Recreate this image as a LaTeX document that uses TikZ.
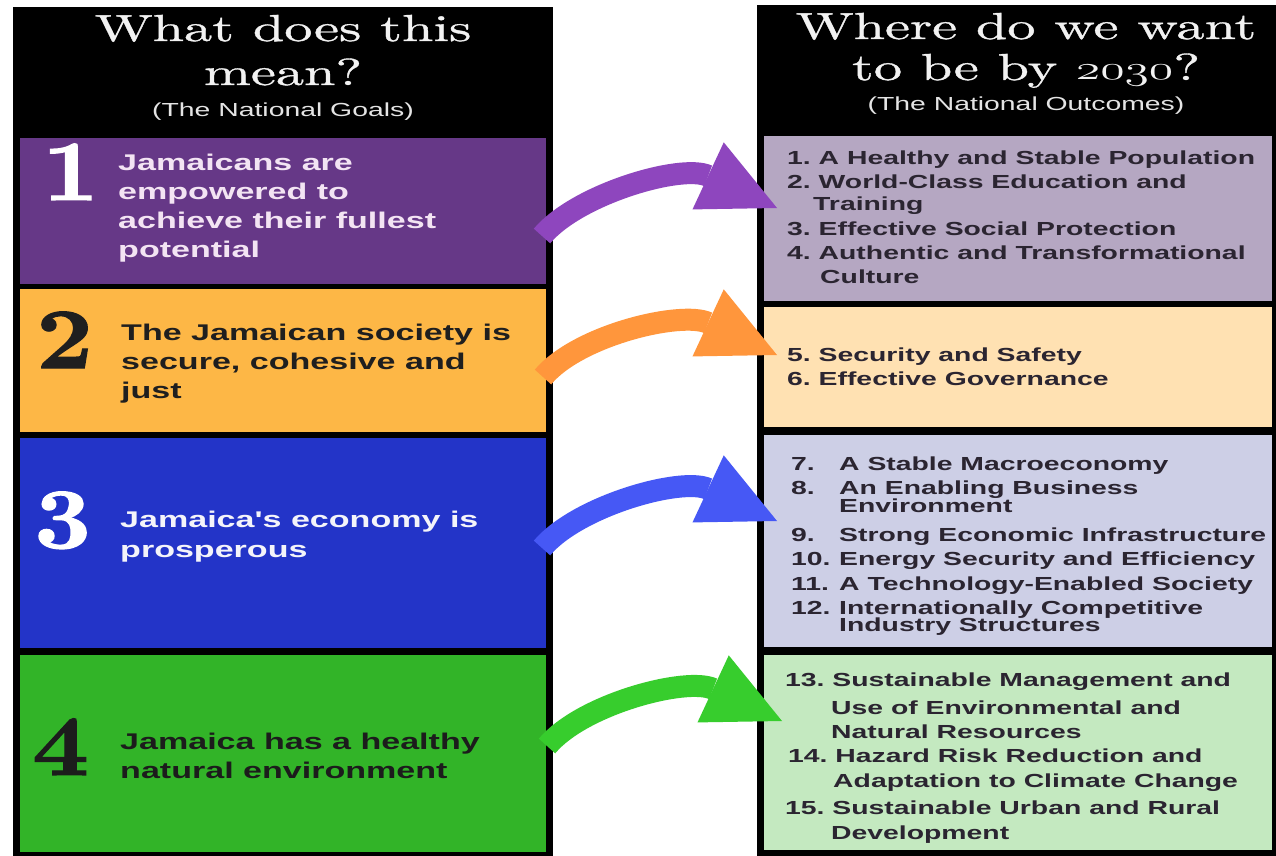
\documentclass[tikz,border=0pt]{standalone}
\usepackage{fontspec}
\newfontfamily\headfont[Extension=.otf,FakeStretch=1.5,FakeBold=1]{lmroman10-regular}
\newfontfamily\numfont[Extension=.otf,FakeStretch=1.15,FakeBold=1.5]{lmroman10-bold}
\newfontfamily\bodyfont[FakeStretch=1.5]{Liberation Sans}
\usetikzlibrary{arrows.meta}
\frenchspacing

\definecolor{goalA}{HTML}{663887}
\definecolor{goalB}{HTML}{FDB746}
\definecolor{goalC}{HTML}{2334C8}
\definecolor{goalD}{HTML}{32B428}
\definecolor{outA}{HTML}{B5A7C2}
\definecolor{outB}{HTML}{FFE1B2}
\definecolor{outC}{HTML}{CDCFE6}
\definecolor{outD}{HTML}{C4E9C0}
\definecolor{arr1}{HTML}{8E46BE}
\definecolor{arr2}{HTML}{FF963C}
\definecolor{arr3}{HTML}{4658F5}
\definecolor{arr4}{HTML}{37CD2D}
\definecolor{inkA}{HTML}{F3E4F3}
\definecolor{inkB}{HTML}{1F1F1F}
\definecolor{inkC}{HTML}{F4F4FA}
\definecolor{inkD}{HTML}{1C1C1C}
\definecolor{outink}{HTML}{2B2531}
\definecolor{headink}{HTML}{F2F2F2}
\definecolor{subink}{HTML}{E4E4E4}

\tikzset{
  panel/.style={fill=black, anchor=north west, inner sep=0pt, outer sep=0pt},
  goalbox/.style={anchor=north west, inner sep=0pt, outer sep=0pt, minimum width=526pt},
  outbox/.style={anchor=north west, inner sep=0pt, outer sep=0pt, minimum width=508pt},
  headtext/.style={anchor=base, inner sep=0pt, text=headink, font=\headfont\fontsize{37.6}{45}\selectfont},
  subtext/.style={anchor=base, inner sep=0pt, text=subink, font=\bodyfont\fontsize{18.9}{22}\selectfont},
  bignum/.style={anchor=base west, inner sep=0pt, font=\numfont\fontsize{86}{90}\selectfont},
  goaltext/.style={anchor=base west, inner sep=0pt, font=\bodyfont\bfseries\fontsize{22.7}{27}\selectfont},
  outtext/.style={anchor=base west, inner sep=0pt, text=outink, font=\bodyfont\bfseries\fontsize{18.9}{22}\selectfont},
  flowarrow/.style={line width=22pt, -{Triangle[length=76pt, width=74pt, line width=0pt]}}
}

\begin{document}
\begin{tikzpicture}[x=1pt, y=1pt]

\fill[white] (0,0) rectangle (1276,-856);
\useasboundingbox (0,0) rectangle (1276,-856);

% Black panels
\node[panel, minimum width=540pt, minimum height=849pt] (frameL) at (13,-7) {};
\node[panel, minimum width=519pt, minimum height=851pt] (frameR) at (757,-5) {};

% Headers
\node[headtext] (hL1) at (283,-41) {What does this};
\node[headtext] (hL2) at (283,-85) {mean?};
\node[subtext] (hL3) at (283,-117) {(The National Goals)};
\node[headtext] (hR1) at (1026,-39) {Where do we want};
\node[headtext] (hR2) at (1026,-80) {to be by \scalebox{2.0}[1.35]{\usefont{OML}{lmm}{m}{it}2030}?};
\node[subtext] (hR3) at (1026,-111) {(The National Outcomes)};

% Goal boxes
\node[goalbox, fill=goalA, minimum height=146pt] (g1) at (20,-138) {};
\node[goalbox, fill=goalB, minimum height=143pt] (g2) at (20,-289) {};
\node[goalbox, fill=goalC, minimum height=210pt] (g3) at (20,-438) {};
\node[goalbox, fill=goalD, minimum height=197pt] (g4) at (20,-655) {};

% Outcome boxes
\node[outbox, fill=outA, minimum height=165pt] (o1) at (764,-136) {};
\node[outbox, fill=outB, minimum height=120pt] (o2) at (764,-307) {};
\node[outbox, fill=outC, minimum height=212pt] (o3) at (764,-435) {};
\node[outbox, fill=outD, minimum height=195pt] (o4) at (764,-655) {};

% Goal numbers
\node[bignum, text=white] (n1) at (42,-200) {1};
\node[bignum, text=inkB] (n2) at (36,-368) {2};
\node[bignum, text=white] (n3) at (34,-548) {3};
\node[bignum, text=inkD] (n4) at (32,-775) {4};

% Goal texts
\foreach \txt [count=\k] in {Jamaicans are, empowered to, achieve their fullest, potential}
  \node[goaltext, text=inkA] (g1-\k) at (118,{-170-29*(\k-1)}) {\txt};
\foreach \txt [count=\k] in {The Jamaican society is, {secure, cohesive and}, just}
  \node[goaltext, text=inkB] (g2-\k) at (121,{-340-29*(\k-1)}) {\txt};
\foreach \txt [count=\k] in {Jamaica's economy is, prosperous}
  \node[goaltext, text=inkC] (g3-\k) at (120,{-527-30*(\k-1)}) {\txt};
\foreach \txt [count=\k] in {Jamaica has a healthy, natural environment}
  \node[goaltext, text=inkD] (g4-\k) at (120,{-749-29*(\k-1)}) {\txt};

% Outcome texts
\foreach \xx/\yy/\txt [count=\k] in {787/164/{1. A Healthy and Stable Population},
    787/188/{2. World-Class Education and}, 813/210/Training,
    787/235/{3. Effective Social Protection}, 787/259/{4. Authentic and Transformational},
    820/283/Culture}
  \node[outtext] (o1-\k) at (\xx,-\yy) {\txt};
\foreach \xx/\yy/\txt [count=\k] in {787/361/{5. Security and Safety}, 787/385/{6. Effective Governance}}
  \node[outtext] (o2-\k) at (\xx,-\yy) {\txt};
\foreach \xx/\yy/\txt [count=\k] in {791/470/7., 839/470/{A Stable Macroeconomy},
    791/494/8., 839/494/{An Enabling Business}, 839/512/Environment,
    791/541/9., 839/541/{Strong Economic Infrastructure},
    791/565/10., 839/565/{Energy Security and Efficiency},
    791/590/11., 839/590/{A Technology-Enabled Society},
    791/614/12., 839/614/{Internationally Competitive}, 839/631/{Industry Structures}}
  \node[outtext] (o3-\k) at (\xx,-\yy) {\txt};
\foreach \xx/\yy/\txt [count=\k] in {785/686/{13. Sustainable Management and},
    831/714/{Use of Environmental and}, 831/738/{Natural Resources},
    788/762/{14. Hazard Risk Reduction and}, 833/787/{Adaptation to Climate Change},
    785/814/{15. Sustainable Urban and Rural}, 831/839/Development}
  \node[outtext] (o4-\k) at (\xx,-\yy) {\txt};

% Arrows from goals to outcomes
\foreach \i/\tx/\ty/\hx/\hy in {1/-4/-25/13/10.5, 2/-3/-16.5/13/12, 3/-4/-5/13/20, 4/1/7.5/18/31.5}
  \draw[flowarrow, draw=arr\i] ([xshift=\tx pt, yshift=\ty pt]g\i.east)
    .. controls +(50:55) and +(155:105) .. ([xshift=\hx pt, yshift=\hy pt]o\i.west);

\end{tikzpicture}
\end{document}
